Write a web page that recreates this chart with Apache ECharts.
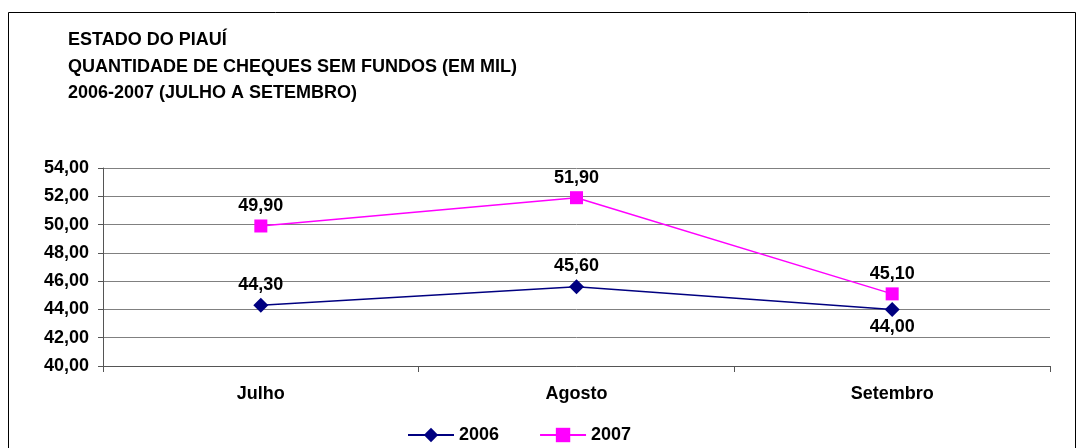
<!DOCTYPE html>
<html><head><meta charset="utf-8">
<script src="https://cdn.jsdelivr.net/npm/echarts@6/dist/echarts.min.js"></script>
<style>html,body{margin:0;padding:0;background:#fff}#c{width:1083px;height:448px}</style>
</head><body><div id="c"></div>
<script>
const categories = ['Julho', 'Agosto', 'Setembro'];
const values2006 = [44.3, 45.6, 44.0];
const values2007 = [49.9, 51.9, 45.1];
const titleLines = ['ESTADO DO PIAUÍ', 'QUANTIDADE DE CHEQUES SEM FUNDOS (EM MIL)', '2006-2007 (JULHO A SETEMBRO)'];
const yMin = 40, yMax = 54, yStep = 2;

const fmt = v => v.toFixed(2).replace('.', ',');
const font = '"Liberation Sans", Arial, sans-serif';
const chart = echarts.init(document.getElementById('c'), null, {renderer: 'canvas'});
chart.setOption({
  animation: false,
  backgroundColor: '#fff',
  graphic: [
    {type: 'rect', shape: {x: 8.5, y: 12.5, width: 1067, height: 440}, style: {fill: 'none', stroke: '#000', lineWidth: 1}},
    {type: 'text', left: 68, top: 27, style: {text: titleLines.join('\n'), font: 'bold 18px ' + font, fill: '#000', lineHeight: 26.5}}
  ],
  grid: {left: 103, right: 33, top: 168, bottom: 82, containLabel: false},
  legend: {
    top: 421, left: 402, itemGap: 40, itemWidth: 46, itemHeight: 18,
    textStyle: {fontFamily: font, fontWeight: 'bold', fontSize: 18, color: '#000'},
    data: ['2006', '2007']
  },
  xAxis: {
    type: 'category', data: categories, boundaryGap: true,
    axisLine: {lineStyle: {color: '#555', width: 1}},
    axisTick: {show: true, length: 6, lineStyle: {color: '#555'}},
    axisLabel: {fontFamily: font, fontWeight: 'bold', fontSize: 18, color: '#000', margin: 19}
  },
  yAxis: {
    type: 'value', min: yMin, max: yMax, interval: yStep,
    axisLine: {show: true, lineStyle: {color: '#555', width: 1}},
    axisTick: {show: true, length: 5, lineStyle: {color: '#555'}},
    axisLabel: {fontFamily: font, fontWeight: 'bold', fontSize: 18, color: '#000', margin: 14, formatter: v => fmt(v)},
    splitLine: {lineStyle: {color: '#808080', width: 1}}
  },
  series: [
    {
      name: '2006', type: 'line', data: values2006, color: '#000080',
      symbol: 'diamond', symbolSize: 15, lineStyle: {width: 1.5, color: '#000080'},
      itemStyle: {color: '#000080'},
      label: {show: true, position: 'top', distance: 4, formatter: p => fmt(p.value),
        fontFamily: font, fontWeight: 'bold', fontSize: 18, color: '#000'},
      labelLayout: p => p.dataIndex === 2 ? {dy: 38} : {}
    },
    {
      name: '2007', type: 'line', data: values2007, color: '#FF00FF',
      symbol: 'rect', symbolSize: 13, lineStyle: {width: 1.5, color: '#FF00FF'},
      itemStyle: {color: '#FF00FF'},
      label: {show: true, position: 'top', distance: 4, formatter: p => fmt(p.value),
        fontFamily: font, fontWeight: 'bold', fontSize: 18, color: '#000'}
    }
  ]
});
</script></body></html>
